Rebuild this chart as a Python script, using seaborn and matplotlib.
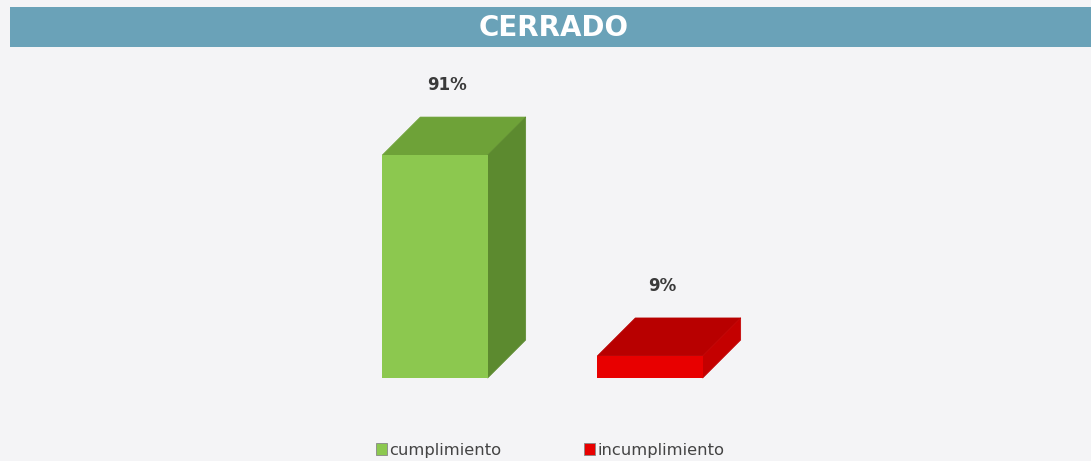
import numpy as np
import pandas as pd
import seaborn as sns
import matplotlib
matplotlib.use("Agg")
import matplotlib.pyplot as plt
from matplotlib.patches import Polygon, Rectangle, Patch

# ---- data ----
categories = ["cumplimiento", "incumplimiento"]
values = [91, 9]
labels = ["91%", "9%"]
title = "CERRADO"

# ---- styles ----
front_colors = ["#8cc84f", "#e80000"]
top_colors = ["#6ea238", "#b80000"]
side_colors = ["#5c8a2f", "#c40000"]
bg = "#f4f4f6"
banner = "#6aa2b8"

W, H = 1091, 461
sns.set_theme(style="white")
plt.rcParams['font.family'] = ['DejaVu Sans']

fig = plt.figure(figsize=(W / 100, H / 100), dpi=100, facecolor=bg)

# banner
fig.patches.append(Rectangle((10 / W, 1 - 47 / H), 1 - 10 / W, 40 / H,
                             transform=fig.transFigure, facecolor=banner,
                             edgecolor="none", zorder=0))
fig.text(554 / W, 1 - 28 / H, title, color="white", fontsize=20,
         fontweight="heavy", ha="center", va="center")

# axes
base_px = 378
scale = 2.45
ax = fig.add_axes([327.5 / W, (H - base_px) / H, 430 / W, 100 * scale / H])
ax.set_facecolor(bg)
df = pd.DataFrame({"cat": categories, "val": values})
sns.barplot(data=df, x="cat", y="val", hue="cat", palette=front_colors,
            saturation=1, width=0.49, legend=False, ax=ax, zorder=3,
            linewidth=0)
ax.set_xlim(-0.5, 1.5)
ax.set_ylim(0, 100)
ax.axis("off")

fig.canvas.draw()
dx, dy = 38, 38
inv = ax.transData.inverted()
for i, p in enumerate(ax.patches):
    x0, y0 = p.get_x(), p.get_y()
    x1, y1 = x0 + p.get_width(), y0 + p.get_height()
    (px0, py0) = ax.transData.transform((x0, y0))
    (px1, py1) = ax.transData.transform((x1, y1))
    top = [(px0, py1), (px1, py1), (px1 + dx, py1 + dy), (px0 + dx, py1 + dy)]
    side = [(px1, py0), (px1 + dx, py0 + dy), (px1 + dx, py1 + dy), (px1, py1)]
    for pts, col in ((top, top_colors[i]), (side, side_colors[i])):
        ax.add_patch(Polygon(inv.transform(pts), closed=True, facecolor=col,
                             edgecolor=col, lw=0.5, zorder=2, clip_on=False,
                             joinstyle="round"))
    ax.annotate(labels[i], xy=((x0 + x1) / 2, y1),
                xytext=(12 * 0.72, 70 * 0.72), textcoords="offset points",
                ha="center", va="center", fontsize=12, fontweight="bold",
                color="#3a3a3a", annotation_clip=False)

handles = [Patch(facecolor=c, edgecolor="#888888", lw=0.6) for c in front_colors]
fig.legend(handles, categories, loc="center", bbox_to_anchor=(550 / W, 1 - 450 / H),
           ncol=2, frameon=False, fontsize=11.8, handlelength=0.7,
           handleheight=0.7, handletextpad=0.15, columnspacing=5.0,
           labelcolor="#444444")

fig.savefig("out.png", dpi=100, facecolor=bg)
